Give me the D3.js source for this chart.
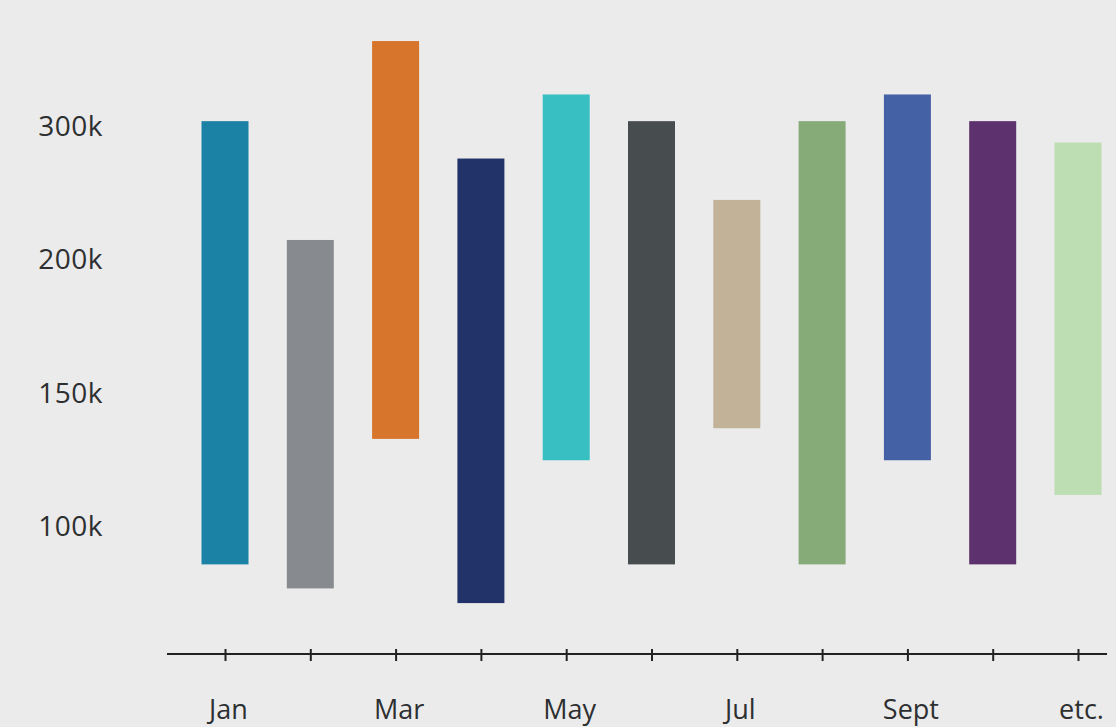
<!DOCTYPE html>
<html>
<head>
<meta charset="utf-8">
<script src="https://cdn.jsdelivr.net/npm/d3@7"></script>
<style>
  html, body { margin: 0; padding: 0; background: #ebebeb; }
  svg { display: block; }
  text { font-family: "Open Sans", "Noto Sans", sans-serif; fill: #2d2f31; }
</style>
</head>
<body>
<svg id="chart" width="1116" height="727"></svg>
<script>
// Monthly low/high ranges (thousands)
const categories = ["Jan", "Feb", "Mar", "Apr", "May", "Jun", "Jul", "Aug", "Sept", "Oct", "etc."];
const lowValues  = [86, 77, 133, 71.5, 125, 86, 137, 86, 125, 86, 112];
const highValues = [304, 215, 364, 276, 324, 304, 245, 304, 324, 304, 288];
const barColors  = ["#1b81a5", "#878a8e", "#d7752c", "#22336a", "#37bfc2", "#474c4f",
                    "#c1b298", "#86ab78", "#4461a5", "#5d306e", "#bddeb3"];
const xTickLabels = ["Jan", "", "Mar", "", "May", "", "Jul", "", "Sept", "", "etc."];
const yTickValues = [100, 150, 200, 300];
const yTickLabels = ["100k", "150k", "200k", "300k"];

const svg = d3.select("#chart");

// Evenly spaced axis stops: piecewise linear value scale
const y = d3.scaleLinear()
  .domain(yTickValues)
  .range([527, 393.5, 260, 126.5]);

const x = d3.scalePoint()
  .domain(categories)
  .range([225, 1078]);

const step = x.step();
const barWidth = 47;
const axisY = 654;

// Bars
svg.append("g")
  .selectAll("rect")
  .data(categories)
  .join("rect")
  .attr("x", d => x(d) - barWidth / 2)
  .attr("width", barWidth)
  .attr("y", (d, i) => y(highValues[i]))
  .attr("height", (d, i) => y(lowValues[i]) - y(highValues[i]))
  .attr("fill", (d, i) => barColors[i]);

// Y axis labels
const yAxis = svg.append("g")
  .attr("transform", "translate(111,0)")
  .call(d3.axisLeft(y)
    .tickValues(yTickValues)
    .tickFormat((d, i) => yTickLabels[i])
    .tickSize(0)
    .tickPadding(8));
yAxis.select(".domain").remove();
yAxis.selectAll("text")
  .attr("font-size", 28)
  .attr("font-family", null)
  .style("letter-spacing", "0.5px");

// X axis
const xAxis = svg.append("g")
  .attr("transform", `translate(0,${axisY})`)
  .call(d3.axisBottom(x)
    .tickFormat((d, i) => xTickLabels[i])
    .tickSizeOuter(0));
xAxis.select(".domain").remove();
xAxis.selectAll(".tick line")
  .attr("y1", -5)
  .attr("y2", 7)
  .attr("stroke", "#222")
  .attr("stroke-width", 2);
xAxis.selectAll(".tick text")
  .attr("font-size", 27)
  .attr("font-family", null)
  .attr("dy", null)
  .attr("dx", 3)
  .attr("y", 65);

xAxis.append("line")
  .attr("x1", x(categories[0]) - step * 0.68)
  .attr("x2", x(categories[categories.length - 1]) + step * 0.34)
  .attr("y1", 0)
  .attr("y2", 0)
  .attr("stroke", "#222")
  .attr("stroke-width", 2);
</script>
</body>
</html>
